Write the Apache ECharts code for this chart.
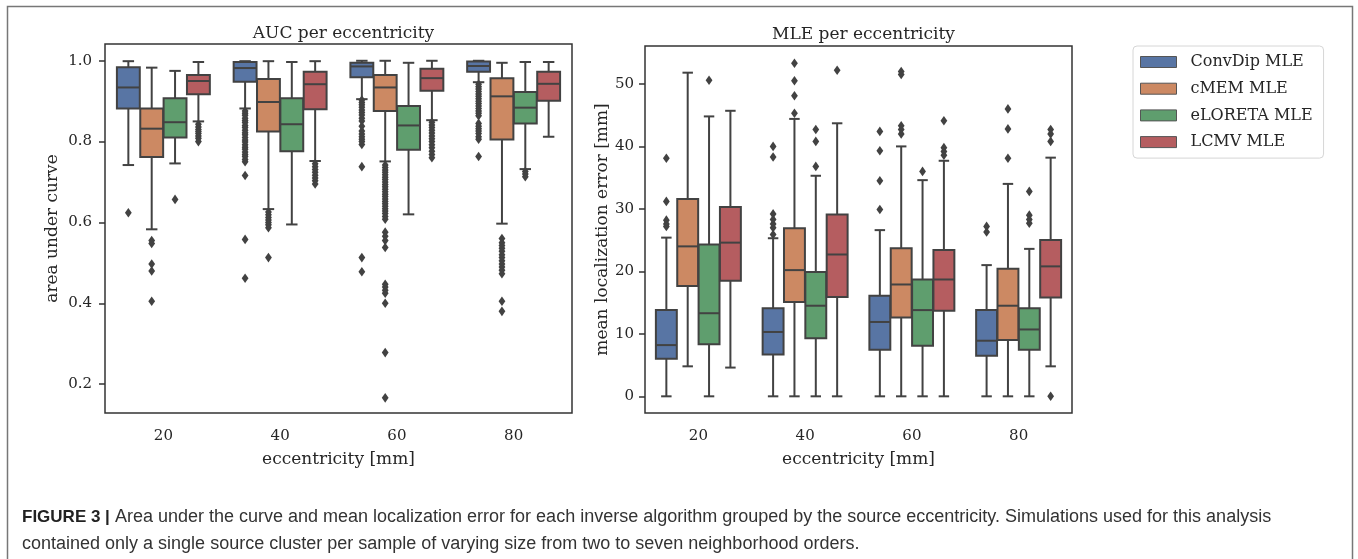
<!DOCTYPE html>
<html><head><meta charset="utf-8">
<script src="https://cdn.jsdelivr.net/npm/echarts@6/dist/echarts.min.js"></script>
<style>html,body{margin:0;padding:0;background:#fff}#c{width:1358px;height:559px}</style>
</head><body><div id="c"></div>
<script>
// ---------- data ----------
const categories = ['20', '40', '60', '80'];
const methods = ['ConvDip MLE', 'cMEM MLE', 'eLORETA MLE', 'LCMV MLE'];
const colors = ['#5875a4', '#cc8963', '#5f9e6e', '#b55d60'];
const aucTicks = [0.2, 0.4, 0.6, 0.8, 1.0];
const mleTicks = [0, 10, 20, 30, 40, 50];

// box stats per eccentricity: [lowWhisker, q1, median, q3, highWhisker]
const aucConvDip = [[0.742, 0.882, 0.934, 0.984, 0.999], [0.882, 0.948, 0.982, 0.997, 0.999], [0.905, 0.959, 0.986, 0.995, 1.0], [0.947, 0.973, 0.987, 0.998, 1.0]];
const aucCMEM    = [[0.583, 0.762, 0.832, 0.882, 0.983], [0.633, 0.825, 0.898, 0.955, 0.999], [0.751, 0.876, 0.934, 0.965, 1.0], [0.597, 0.805, 0.912, 0.957, 0.995]];
const aucELORETA = [[0.746, 0.810, 0.848, 0.907, 0.975], [0.595, 0.776, 0.843, 0.907, 0.997], [0.620, 0.780, 0.840, 0.888, 0.995], [0.732, 0.845, 0.884, 0.923, 0.997]];
const aucLCMV    = [[0.850, 0.917, 0.950, 0.965, 0.997], [0.752, 0.880, 0.942, 0.973, 0.999], [0.853, 0.926, 0.957, 0.980, 1.0], [0.812, 0.901, 0.943, 0.973, 0.997]];

// outliers per eccentricity
const aucConvDipOut = [
  [0.624],
  [0.876, 0.870, 0.865, 0.858, 0.852, 0.847, 0.840, 0.835, 0.828, 0.822, 0.817, 0.810, 0.804, 0.799, 0.792, 0.786, 0.781, 0.774, 0.768, 0.763, 0.756, 0.750, 0.716, 0.558, 0.462],
  [0.903, 0.897, 0.891, 0.885, 0.878, 0.872, 0.866, 0.858, 0.851, 0.838, 0.826, 0.819, 0.812, 0.806, 0.800, 0.793, 0.738, 0.513, 0.478],
  [0.942, 0.936, 0.930, 0.924, 0.918, 0.912, 0.906, 0.900, 0.894, 0.888, 0.882, 0.876, 0.870, 0.864, 0.845, 0.838, 0.832, 0.826, 0.820, 0.812, 0.806, 0.763]
];
const aucCMEMOut = [
  [0.555, 0.548, 0.497, 0.480, 0.405],
  [0.626, 0.619, 0.612, 0.606, 0.600, 0.594, 0.587, 0.513],
  [0.742, 0.736, 0.730, 0.724, 0.718, 0.712, 0.706, 0.700, 0.694, 0.688, 0.682, 0.676, 0.670, 0.664, 0.658, 0.652, 0.646, 0.640, 0.634, 0.628, 0.622, 0.615, 0.608, 0.576, 0.566, 0.555, 0.538, 0.447, 0.440, 0.432, 0.425, 0.400, 0.278, 0.166],
  [0.560, 0.550, 0.543, 0.536, 0.529, 0.520, 0.513, 0.505, 0.497, 0.490, 0.482, 0.473, 0.405, 0.380]
];
const aucELORETAOut = [[0.657], [], [], [0.726, 0.720, 0.713]];
const aucLCMVOut = [
  [0.843, 0.836, 0.830, 0.825, 0.820, 0.814, 0.808, 0.800],
  [0.745, 0.738, 0.731, 0.724, 0.717, 0.710, 0.703, 0.695],
  [0.848, 0.841, 0.835, 0.828, 0.821, 0.814, 0.807, 0.800, 0.792, 0.785, 0.776, 0.768, 0.760],
  []
];

const mleConvDip = [[0, 6.0, 8.2, 13.8, 25.4], [0, 6.7, 10.3, 14.1, 25.3], [0, 7.45, 11.9, 16.1, 26.6], [0, 6.5, 8.9, 13.8, 21.0]];
const mleCMEM    = [[4.8, 17.65, 24.0, 31.6, 51.8], [0, 15.1, 20.2, 26.9, 44.4], [0, 12.6, 17.9, 23.7, 40.0], [0, 9.0, 14.5, 20.4, 34.0]];
const mleELORETA = [[0, 8.35, 13.3, 24.3, 44.8], [0, 9.3, 14.5, 19.9, 35.3], [0, 8.1, 13.8, 18.7, 34.6], [0, 7.45, 10.7, 14.1, 23.6]];
const mleLCMV    = [[4.6, 18.5, 24.6, 30.3, 45.7], [0, 15.9, 22.7, 29.1, 43.7], [0, 13.7, 18.7, 23.4, 37.7], [4.8, 15.8, 20.8, 25.0, 38.2]];

const mleConvDipOut = [[38.1, 31.2, 28.2, 27.6, 27.2], [40.0, 38.3, 29.2, 28.3, 27.6, 27.0, 25.9], [42.4, 39.3, 34.5, 29.9], [27.2, 26.3]];
const mleCMEMOut    = [[], [53.3, 50.5, 48.1, 45.3], [52.0, 51.5, 43.3, 42.7, 42.0], [46.0, 42.8, 38.1]];
const mleELORETAOut = [[50.6], [42.7, 40.8, 36.8], [36.0], [32.8, 29.0, 28.3, 27.7]];
const mleLCMVOut    = [[], [52.2], [44.1, 39.8, 39.2, 38.6], [42.7, 42.0, 40.8, 0.0]];

// ---------- styling ----------
const EDGE = '#424242';
const LW = 2;
const SERIF = 'DejaVu Serif';
const TXT = '#262626';

function boxRender(hue, color) {
  return function (params, api) {
    const cat = api.value(0);
    const lo = api.value(1), q1 = api.value(2), md = api.value(3), q3 = api.value(4), hi = api.value(5);
    const band = api.coord([1, md])[0] - api.coord([0, md])[0];
    const w = band * 0.2 * 0.98;
    const cx = api.coord([cat, md])[0] + (hue - 1.5) * band * 0.2;
    const Y = v => api.coord([cat, v])[1];
    const st = { stroke: EDGE, lineWidth: LW };
    return {
      type: 'group', children: [
        { type: 'line', shape: { x1: cx, y1: Y(q3), x2: cx, y2: Y(hi) }, style: st },
        { type: 'line', shape: { x1: cx, y1: Y(q1), x2: cx, y2: Y(lo) }, style: st },
        { type: 'line', shape: { x1: cx - w / 4, y1: Y(hi), x2: cx + w / 4, y2: Y(hi) }, style: st },
        { type: 'line', shape: { x1: cx - w / 4, y1: Y(lo), x2: cx + w / 4, y2: Y(lo) }, style: st },
        { type: 'rect', shape: { x: cx - w / 2, y: Y(q3), width: w, height: Y(q1) - Y(q3) }, style: { fill: color, stroke: EDGE, lineWidth: LW } },
        { type: 'line', shape: { x1: cx - w / 2, y1: Y(md), x2: cx + w / 2, y2: Y(md) }, style: st }
      ]
    };
  };
}
function outRender(params, api) {
  const cat = api.value(0), hue = api.value(1), v = api.value(2);
  const band = api.coord([1, v])[0] - api.coord([0, v])[0];
  const p = api.coord([cat, v]);
  const x = p[0] + (hue - 1.5) * band * 0.2, y = p[1];
  return { type: 'polygon', shape: { points: [[x, y - 4.8], [x + 3.4, y], [x, y + 4.8], [x - 3.4, y]] }, style: { fill: EDGE } };
}

const aucStats = [aucConvDip, aucCMEM, aucELORETA, aucLCMV];
const aucOuts = [aucConvDipOut, aucCMEMOut, aucELORETAOut, aucLCMVOut];
const mleStats = [mleConvDip, mleCMEM, mleELORETA, mleLCMV];
const mleOuts = [mleConvDipOut, mleCMEMOut, mleELORETAOut, mleLCMVOut];

const series = [];
[[aucStats, aucOuts, 0], [mleStats, mleOuts, 1]].forEach(([stats, outs, gi]) => {
  stats.forEach((st, h) => {
    series.push({
      type: 'custom', name: methods[h], xAxisIndex: gi, yAxisIndex: gi,
      itemStyle: { color: colors[h] },
      renderItem: boxRender(h, colors[h]),
      encode: { x: 0, y: [1, 2, 3, 4, 5] },
      data: st.map((s, c) => [c].concat(s))
    });
  });
  const od = [];
  outs.forEach((o, h) => o.forEach((vals, c) => vals.forEach(v => od.push([c, h, v]))));
  series.push({
    type: 'custom', name: 'outliers' + gi, xAxisIndex: gi, yAxisIndex: gi,
    renderItem: outRender, encode: { x: 0, y: 2 }, data: od, z: 3
  });
});

const xAxisCommon = {
  type: 'category', data: categories, boundaryGap: true,
  axisLine: { show: false },
  axisTick: { alignWithLabel: true, length: 6, lineStyle: { color: '#333', width: 1.5 } },
  axisLabel: { color: TXT, fontFamily: SERIF, fontSize: 15, margin: 16 },
  name: 'eccentricity [mm]', nameLocation: 'middle', nameGap: 38,
  nameTextStyle: { color: TXT, fontFamily: SERIF, fontSize: 17 }
};
const yAxisCommon = {
  type: 'value', splitLine: { show: false },
  axisLine: { show: false },
  nameLocation: 'middle', nameRotate: 90,
  nameTextStyle: { color: TXT, fontFamily: SERIF, fontSize: 17 }
};

const option = {
  backgroundColor: '#fff',
  animation: false,
  title: [
    { text: 'AUC per eccentricity', left: 338.5, top: 20, textAlign: 'center', textStyle: { color: TXT, fontFamily: SERIF, fontSize: 17, fontWeight: 'normal' } },
    { text: 'MLE per eccentricity', left: 858.5, top: 21, textAlign: 'center', textStyle: { color: TXT, fontFamily: SERIF, fontSize: 17, fontWeight: 'normal' } }
  ],
  legend: {
    data: methods.map(m => ({ name: m, icon: 'rect' })),
    orient: 'vertical', left: 1133, top: 46,
    itemWidth: 36, itemHeight: 11, itemGap: 8.7,
    selectedMode: false,
    padding: [7, 11, 7, 7],
    backgroundColor: '#fff', borderColor: '#d6d6d6', borderWidth: 1, borderRadius: 4,
    itemStyle: { borderColor: '#555', borderWidth: 1 },
    textStyle: { color: TXT, fontFamily: SERIF, fontSize: 16, lineHeight: 18, padding: [0, 0, 0, 9] }
  },
  grid: [
    { left: 105, top: 44, width: 467, height: 369, show: true, borderColor: '#333', borderWidth: 1.5, backgroundColor: 'transparent' },
    { left: 645, top: 46, width: 427, height: 367, show: true, borderColor: '#333', borderWidth: 1.5, backgroundColor: 'transparent' }
  ],
  xAxis: [
    Object.assign({}, xAxisCommon, { gridIndex: 0 }),
    Object.assign({}, xAxisCommon, { gridIndex: 1 })
  ],
  yAxis: [
    Object.assign({}, yAxisCommon, {
      gridIndex: 0, min: 0.1285, max: 1.0415, name: 'area under curve', nameGap: 44,
      axisTick: { show: true, length: 6, lineStyle: { color: '#333', width: 1.5 }, customValues: aucTicks },
      axisLabel: { color: TXT, fontFamily: SERIF, fontSize: 15, margin: 13, customValues: aucTicks, formatter: v => Number(v).toFixed(1) }
    }),
    Object.assign({}, yAxisCommon, {
      gridIndex: 1, min: -2.67, max: 56.07, name: 'mean localization error [mm]', nameGap: 32,
      axisTick: { show: true, length: 6, lineStyle: { color: '#333', width: 1.5 }, customValues: mleTicks },
      axisLabel: { color: TXT, fontFamily: SERIF, fontSize: 15, margin: 11, customValues: mleTicks, formatter: v => String(Math.round(v)) }
    })
  ],
  graphic: [
    { type: 'rect', silent: true, shape: { x: 7.5, y: 6.5, width: 1345, height: 600 }, style: { fill: 'none', stroke: '#777', lineWidth: 1.5 } },
    { type: 'text', x: 22, y: 517, silent: true, style: {
        text: '{b|FIGURE 3 |} Area under the curve and mean localization error for each inverse algorithm grouped by the source eccentricity. Simulations used for this analysis',
        fontFamily: 'Liberation Sans', fontSize: 18, fill: '#333', verticalAlign: 'middle',
        rich: { b: { fontWeight: 'bold', fontFamily: 'Liberation Sans', fontSize: 17, fill: '#222' } } } },
    { type: 'text', x: 22, y: 544, silent: true, style: {
        text: 'contained only a single source cluster per sample of varying size from two to seven neighborhood orders.',
        fontFamily: 'Liberation Sans', fontSize: 18, fill: '#333', verticalAlign: 'middle' } }
  ],
  series: series
};
const chart = echarts.init(document.getElementById('c'), null, { renderer: 'canvas' });
chart.setOption(option);
</script></body></html>
